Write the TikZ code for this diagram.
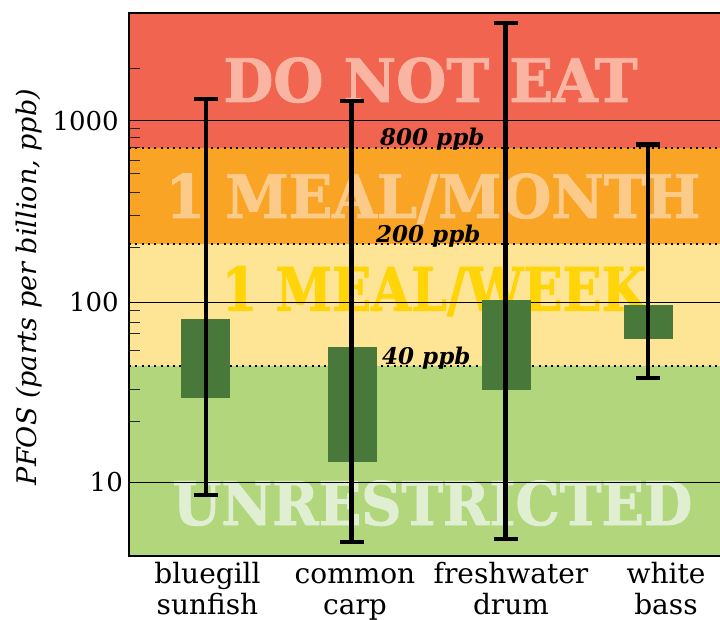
\documentclass[tikz,border=0pt]{standalone}
\usepackage{fontspec}
\setmainfont{DejaVu Serif}
\newfontfamily\pesante{DejaVu Serif}[BoldFeatures={FakeBold=1.5}]
\usetikzlibrary{positioning, arrows.meta}

\definecolor{rosso}{HTML}{F06450}
\definecolor{arancio}{HTML}{F9A425}
\definecolor{giallo}{HTML}{FEE596}
\definecolor{verde}{HTML}{B2D67B}
\definecolor{scuro}{HTML}{48783A}
\definecolor{rosa}{HTML}{F9B5A1}
\definecolor{pesca}{HTML}{FDCB89}
\definecolor{oro}{HTML}{FFD50A}
\definecolor{verdino}{HTML}{E0EFD2}

\newcommand{\stretto}[2]{\scalebox{#1}[1]{#2}}

\begin{document}
\begin{tikzpicture}[x=1pt, y=-1pt,
	scritta/.style={font=\fontsize{60}{60}\selectfont\pesante\bfseries, inner sep=0pt, anchor=base},
	griglia/.style={line width=1pt},
	soglia/.style={line width=2pt, dash pattern=on 2pt off 4.3pt},
	tacca/.style={line width=0.9pt, black!85},
	scatola/.style={fill=scuro},
	barra/.style={line width=4.5pt, {Bar[width=24pt]}-{Bar[width=24pt]}},
	valore/.style={font=\fontsize{26}{26}\selectfont, inner sep=0pt},
	etichetta/.style={font=\fontsize{23}{23}\selectfont\bfseries\itshape, inner sep=0pt, anchor=base west},
	categoria/.style={font=\fontsize{28}{31}\selectfont, inner sep=0pt, align=center}]
					\useasboundingbox (0,0) rectangle (720,620);
					
					% Fasce di consumo
					\fill[rosso] (129,13) rectangle (720,147.7);
					\fill[arancio] (129,147.7) rectangle (720,244.3);
					\fill[giallo] (129,244.3) rectangle (720,366);
					\fill[verde] (129,366) rectangle (720,556);
					
					\node[scritta, text=rosa] (noeat) at (430.5,102) {\stretto{0.96}{DO NOT EAT}};
					\node[scritta, text=pesca] (mese) at (433,218) {\stretto{0.955}{1 MEAL/MONTH}};
					\node[scritta, text=oro] (sett) at (434,310.7) {\stretto{0.855}{1 MEAL/WEEK}};
					\node[scritta, text=verdino] (libero) at (432.5,525) {\stretto{0.93}{UNRESTRICTED}};
					
					% Griglia e soglie
					\coordinate (g1000) at (129,121);
					\coordinate (g100) at (129,302.3);
					\coordinate (g10) at (129,482.3);
					\draw[griglia] (g1000) -- (720,121);
					\draw[griglia] (g100) -- (720,302.3);
					\draw[griglia] (g10) -- (720,482.3);
					
					\foreach \y in {68.3,128.3,137,147,160.3,173.7,192.7,215,247,310.7,322.3,333.3,350,389,421}
						\draw[tacca] (129,\y) -- (140,\y);
					
					\draw[soglia] (129,147.7) -- (720,147.7);
					\draw[soglia] (129,244.3) -- (720,244.3);
					\draw[soglia] (129,366) -- (720,366);
					
					% Intervalli interquartili
					\fill[scatola] (181,319) rectangle (230,397.7);
					\fill[scatola] (328.3,346.7) rectangle (376.7,461.7);
					\fill[scatola] (482.3,300) rectangle (530.7,390);
					\fill[scatola] (624,305) rectangle (672.7,338.7);
					
					% Minimi e massimi
					\coordinate (bluA) at (206,96.7);
					\coordinate (bluB) at (206,497.3);
					\coordinate (carA) at (351.7,98.7);
					\coordinate (carB) at (351.7,544.3);
					\coordinate (druA) at (505.7,20.7);
					\coordinate (druB) at (505.7,541.3);
					\coordinate (basA) at (648,142.3);
					\coordinate (basB) at (648,380.3);
					\draw[barra] (bluA) -- (bluB);
					\draw[barra] (carA) -- (carB);
					\draw[barra] (druA) -- (druB);
					\draw[barra] (basA) -- (basB);
					
					% Soglie in ppb
					\node[etichetta] (s800) at (380,146) {800 ppb};
					\node[etichetta] (s200) at (376,242.5) {200 ppb};
					\node[etichetta] (s40) at (382,364.5) {40 ppb};
					
					% Assi
					\draw[line width=1.2pt] (720,13) -- (129,13) -- (129,556) -- (720,556);
					\node[valore, left=10pt of g1000] (v1000) {1000};
					\node[valore, left=10pt of g100] (v100) {100};
					\node[valore, left=6pt of g10] (v10) {10};
					\node[font=\fontsize{27}{27}\selectfont\itshape, inner sep=0pt, rotate=90] (asse) at (29,287) {PFOS (parts per billion, ppb)};
					
					% Specie
					\coordinate (xblu) at (207.5,556);
					\coordinate (xcar) at (355,556);
					\coordinate (xdru) at (511,556);
					\coordinate (xbas) at (666,556);
					\node[categoria, below=6pt of xblu] (lblu) {\strut bluegill\\sunfish};
					\node[categoria, below=6pt of xcar] (lcar) {\strut common\\carp};
					\node[categoria, below=6pt of xdru] (ldru) {\strut freshwater\\drum};
					\node[categoria, below=6pt of xbas] (lbas) {\strut white\\bass};
				\end{tikzpicture}
\end{document}
